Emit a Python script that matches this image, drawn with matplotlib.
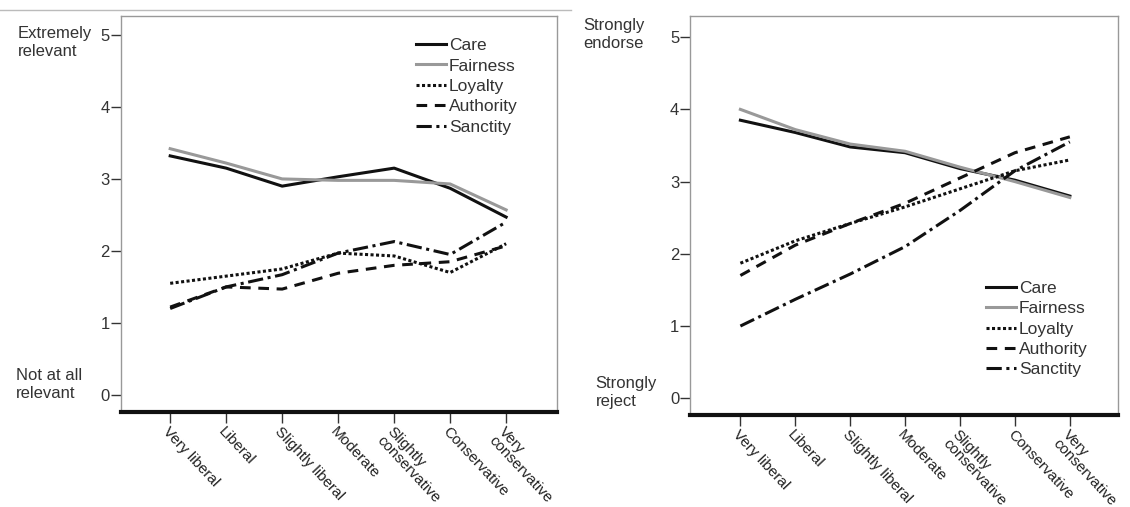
import matplotlib.pyplot as plt
from matplotlib.lines import Line2D

plt.rcParams['font.family'] = ['Liberation Sans', 'DejaVu Sans']

categories = ['Very liberal', 'Liberal', 'Slightly liberal', 'Moderate',
              'Slightly\nconservative', 'Conservative', 'Very\nconservative']
foundations = ['Care', 'Fairness', 'Loyalty', 'Authority', 'Sanctity']

# left panel: relevance
rel_care = [3.32, 3.15, 2.90, 3.03, 3.15, 2.87, 2.47]
rel_fairness = [3.42, 3.22, 3.00, 2.98, 2.98, 2.93, 2.57]
rel_loyalty = [1.55, 1.65, 1.75, 1.97, 1.93, 1.70, 2.10]
rel_authority = [1.22, 1.50, 1.47, 1.69, 1.80, 1.85, 2.07]
rel_sanctity = [1.20, 1.50, 1.67, 1.97, 2.13, 1.95, 2.40]

# right panel: judgments
end_care = [3.85, 3.68, 3.48, 3.40, 3.18, 3.02, 2.80]
end_fairness = [4.00, 3.72, 3.52, 3.42, 3.20, 3.00, 2.78]
end_loyalty = [1.87, 2.18, 2.42, 2.65, 2.90, 3.15, 3.30]
end_authority = [1.70, 2.12, 2.42, 2.70, 3.05, 3.40, 3.62]
end_sanctity = [1.00, 1.37, 1.72, 2.10, 2.60, 3.15, 3.55]

styles = [
    dict(color='#111111', linestyle='-'),
    dict(color='#999999', linestyle='-'),
    dict(color='#111111', linestyle=(0, (1, 0.8))),
    dict(color='#111111', linestyle=(0, (3.5, 2.5))),
    dict(color='#111111', linestyle=(0, (5, 1.5, 1, 1.5))),
]

fig = plt.figure(figsize=(11.3, 5.07), dpi=100)
fig.add_artist(Line2D([0.0, 0.505], [0.980, 0.980], color='#bbbbbb', lw=1))


def draw_panel(ax, series, xlim, ylim, top_label, top_pos, bottom_label, bottom_pos, leg_anchor):
    x = range(len(categories))
    for name, vals, st in zip(foundations, series, styles):
        ax.plot(x, vals, lw=2.2, label=name, **st)
    ax.set_xlim(*xlim)
    ax.set_ylim(*ylim)
    ax.set_yticks([0, 1, 2, 3, 4, 5])
    ax.set_xticks(list(x))
    ax.set_xticklabels(categories, rotation=-47, ha='left', va='top',
                       rotation_mode='anchor', fontsize=11, linespacing=0.9)
    for s in ['top', 'right', 'left']:
        ax.spines[s].set_color('#999999')
        ax.spines[s].set_linewidth(1)
    ax.spines['bottom'].set_color('#111111')
    ax.spines['bottom'].set_linewidth(3)
    ax.tick_params(axis='x', length=8, width=1, color='#333333', pad=1)
    ax.tick_params(axis='y', length=7, width=1, color='#333333', labelsize=12,
                   pad=1, labelcolor='#333333')
    for lab in ax.get_xticklabels():
        lab.set_color('#222222')
    ax.text(top_pos[0], top_pos[1], top_label, transform=ax.get_yaxis_transform(),
            ha='left', va='top', fontsize=12, color='#333333', linespacing=1.25)
    ax.text(bottom_pos[0], bottom_pos[1], bottom_label, transform=ax.get_yaxis_transform(),
            ha='left', va='bottom', fontsize=12, color='#333333', linespacing=1.25)
    leg = ax.legend(loc='upper left', bbox_to_anchor=leg_anchor, frameon=False,
                    fontsize=12.5, handlelength=1.75, handletextpad=0.15,
                    labelspacing=0.3, borderaxespad=0, borderpad=0)
    for t in leg.get_texts():
        t.set_color('#333333')


ax1 = fig.add_axes([0.107, 0.187, 0.386, 0.781])
draw_panel(ax1, [rel_care, rel_fairness, rel_loyalty, rel_authority, rel_sanctity],
           (-0.88, 6.91), (-0.24, 5.26),
           'Extremely\nrelevant', (-0.236, 5.12),
           'Not at all\nrelevant', (-0.24, -0.08),
           (0.676, 0.945))

ax2 = fig.add_axes([0.611, 0.181, 0.378, 0.787])
draw_panel(ax2, [end_care, end_fairness, end_loyalty, end_authority, end_sanctity],
           (-0.91, 6.87), (-0.235, 5.29),
           'Strongly\nendorse', (-0.25, 5.26),
           'Strongly\nreject', (-0.222, -0.15),
           (0.692, 0.337))

fig.savefig('out.png', dpi=100)
